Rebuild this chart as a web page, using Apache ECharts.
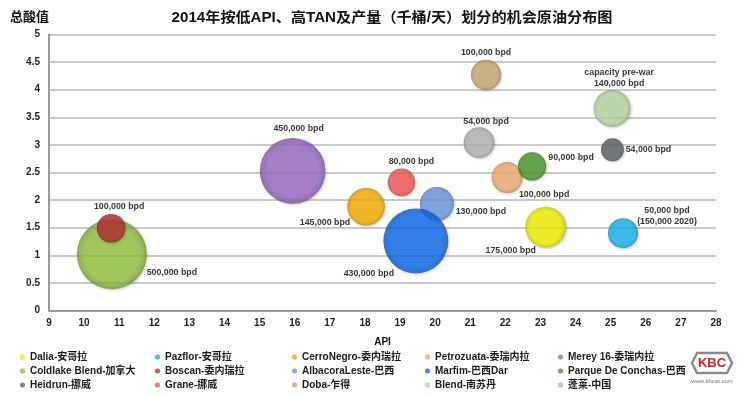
<!DOCTYPE html>
<html>
<head>
<meta charset="utf-8">
<script src="https://cdn.jsdelivr.net/npm/echarts@6/dist/echarts.min.js"></script>
<style>
html,body{margin:0;padding:0;background:#fff;}
#chart{width:754px;height:395px;}
</style>
</head>
<body>
<div id="chart"></div>
<script>
// ---- data ----
var names = ['Dalia-安哥拉','Pazflor-安哥拉','CerroNegro-委内瑞拉','Petrozuata-委瑞内拉','Merey 16-委瑞内拉',
             'Coldlake Blend-加拿大','Boscan-委内瑞拉','AlbacoraLeste-巴西','Marfim-巴西Dar','Parque De Conchas-巴西',
             'Heidrun-挪威','Grane-挪威','Doba-乍得','Blend-南苏丹','蓬莱-中国'];
var api   = [23.15, 25.35, 18.03, 22.05, 15.94, 10.79, 10.77, 20.05, 19.45, 22.76, 25.05, 19.04, 21.45, 25.04, 21.25];
var tan   = [1.51, 1.40, 1.88, 2.41, 2.53, 1.02, 1.49, 1.93, 1.26, 2.61, 2.91, 2.32, 4.27, 3.66, 3.04];
var size  = [170, 92, 145, 98, 440, 500, 84, 118, 430, 82, 54, 78, 93, 140, 96]; // thousand bpd (bubble area)
var labels = ['175,000 bpd','50,000 bpd\n(150,000 2020)','145,000 bpd','100,000 bpd','450,000 bpd',
              '500,000 bpd','100,000 bpd','130,000 bpd','430,000 bpd','90,000 bpd',
              '54,000 bpd','80,000 bpd','100,000 bpd','capacity pre-war\n140,000 bpd','54,000 bpd'];
var xTicks = [9,10,11,12,13,14,15,16,17,18,19,20,21,22,23,24,25,26,27,28];
var yTicks = [0,0.5,1,1.5,2,2.5,3,3.5,4,4.5,5];
var titleText = '2014年按低API、高TAN及产量（千桶/天）划分的机会原油分布图';

// ---- styles ----
var colors = ['#f4f400','#18b4ee','#f8b000','#f2ad74','#9a6cc6',
              '#95c440','#b43030','#6e98de','#0d6cf0','#4c962c',
              '#5c6064','#f05858','#c9a874','#bcd9a4','#b6b6ba'];
var labelOffsets = [[-35,23],[44,-17],[-41,16],[37,17],[6,-42],
                    [60,18],[8,-22],[44,8],[-47,33],[39,-9],
                    [36,0],[10,-21],[0,-22],[7,-30],[7,-21]];

function shade(hex, f){
  var n = parseInt(hex.slice(1),16);
  var r=(n>>16)&255,g=(n>>8)&255,b=n&255;
  function c(v){ return Math.max(0,Math.min(255,Math.round(f<0? v*(1+f) : v+(255-v)*f))); }
  return 'rgb('+c(r)+','+c(g)+','+c(b)+')';
}

var series = names.map(function(n,i){
  return {
    name: n,
    type: 'scatter',
    data: [[api[i], tan[i], size[i]]],
    symbolSize: function(v){ return 70*Math.sqrt(v[2]/500); },
    itemStyle: {
      color: {type:'radial', x:0.5, y:0.5, r:0.5, colorStops:[
        {offset:0, color: colors[i]},
        {offset:0.78, color: colors[i]},
        {offset:0.92, color: shade(colors[i], -0.1)},
        {offset:1, color: shade(colors[i], -0.25)}
      ]},
      shadowColor: 'rgba(0,0,0,0.25)', shadowBlur: 3, shadowOffsetX: 1, shadowOffsetY: 1
    },
    label: {
      show: true, position: 'inside', offset: labelOffsets[i],
      formatter: function(){ return labels[i]; },
      color: '#000', fontSize: 8.8, fontWeight: 'bold', fontFamily: 'Liberation Sans, Arial, sans-serif',
      lineHeight: 11, align: 'center', textBorderWidth: 0
    },
    emphasis: {disabled: true},
    z: 2 + i
  };
});

var colLeft = [20, 155, 292, 425, 558];
var legends = [0,1,2,3,4].map(function(c){
  return {
    orient: 'vertical', left: colLeft[c], top: 351,
    data: [names[c], names[c+5], names[c+10]],
    icon: 'circle', itemWidth: 5, itemHeight: 5, itemGap: 2,
    textStyle: {fontSize: 10, fontWeight: 'bold', color: '#1a1a1a', lineHeight: 12,
                fontFamily: 'Liberation Sans, Arial, "Noto Sans CJK SC", sans-serif'},
    selectedMode: false, padding: 0
  };
});

var chart = echarts.init(document.getElementById('chart'));
chart.setOption({
  animation: false,
  backgroundColor: '#fff',
  graphic: [
    {type:'text', x: 392, y: 18, scaleX: 1.08, style:{text: titleText, fontSize: 14, fontWeight:'bold', fill:'#111',
      fontFamily:'Liberation Sans, Arial, "Noto Sans CJK SC", sans-serif', align:'center', verticalAlign:'middle'}},
    {type:'text', left: 10, top: 10, style:{text:'总酸值', fontSize: 13, fontWeight:'bold', fill:'#111',
      fontFamily:'"Noto Sans CJK SC", sans-serif'}},
    {type:'polygon', shape:{points:[[697,353],[727,353],[732,363],[727,373],[697,373],[692,363]]},
      style:{fill:'#fff', stroke:'#8a8a8a', lineWidth:2.5}},
    {type:'text', x:712, y:363, style:{text:'KBC', fill:'#d42027', fontSize:13, fontWeight:'bold',
      fontFamily:'Liberation Sans, Arial, sans-serif', align:'center', verticalAlign:'middle'}},
    {type:'text', x:712, y:381, style:{text:'www.kbcat.com', fill:'#777', fontSize:6,
      fontFamily:'Liberation Sans, Arial, sans-serif', align:'center', verticalAlign:'middle'}}
  ],
  legend: legends,
  grid: {left: 49, right: 38, top: 34.5, bottom: 84.5, containLabel: false},
  xAxis: {
    type: 'value', min: xTicks[0], max: xTicks[xTicks.length-1], interval: 1,
    name: 'API', nameLocation: 'middle', nameGap: 27,
    nameTextStyle: {fontSize: 10, fontWeight: 'bold', color: '#111', fontFamily:'Liberation Sans, Arial, sans-serif'},
    axisLine: {show: true, lineStyle: {color: '#9a9a9a', width: 2}},
    axisTick: {show: false},
    splitLine: {show: false},
    axisLabel: {fontSize: 10, fontWeight: 'bold', color: '#222', margin: 8,
      fontFamily:'Liberation Sans, Arial, sans-serif',
      formatter: function(v){ return xTicks.indexOf(v) >= 0 ? String(v) : ''; }}
  },
  yAxis: {
    type: 'value', min: yTicks[0], max: yTicks[yTicks.length-1], interval: 0.5,
    axisLine: {show: true, lineStyle: {color: '#9a9a9a', width: 2}},
    axisTick: {show: false},
    splitLine: {show: true, lineStyle: {color: '#cacaca', width: 2}},
    axisLabel: {fontSize: 10, fontWeight: 'bold', color: '#222', margin: 9,
      fontFamily:'Liberation Sans, Arial, sans-serif',
      formatter: function(v){ return yTicks.indexOf(v) >= 0 ? String(v) : ''; }}
  },
  series: series
});
</script>
</body>
</html>
